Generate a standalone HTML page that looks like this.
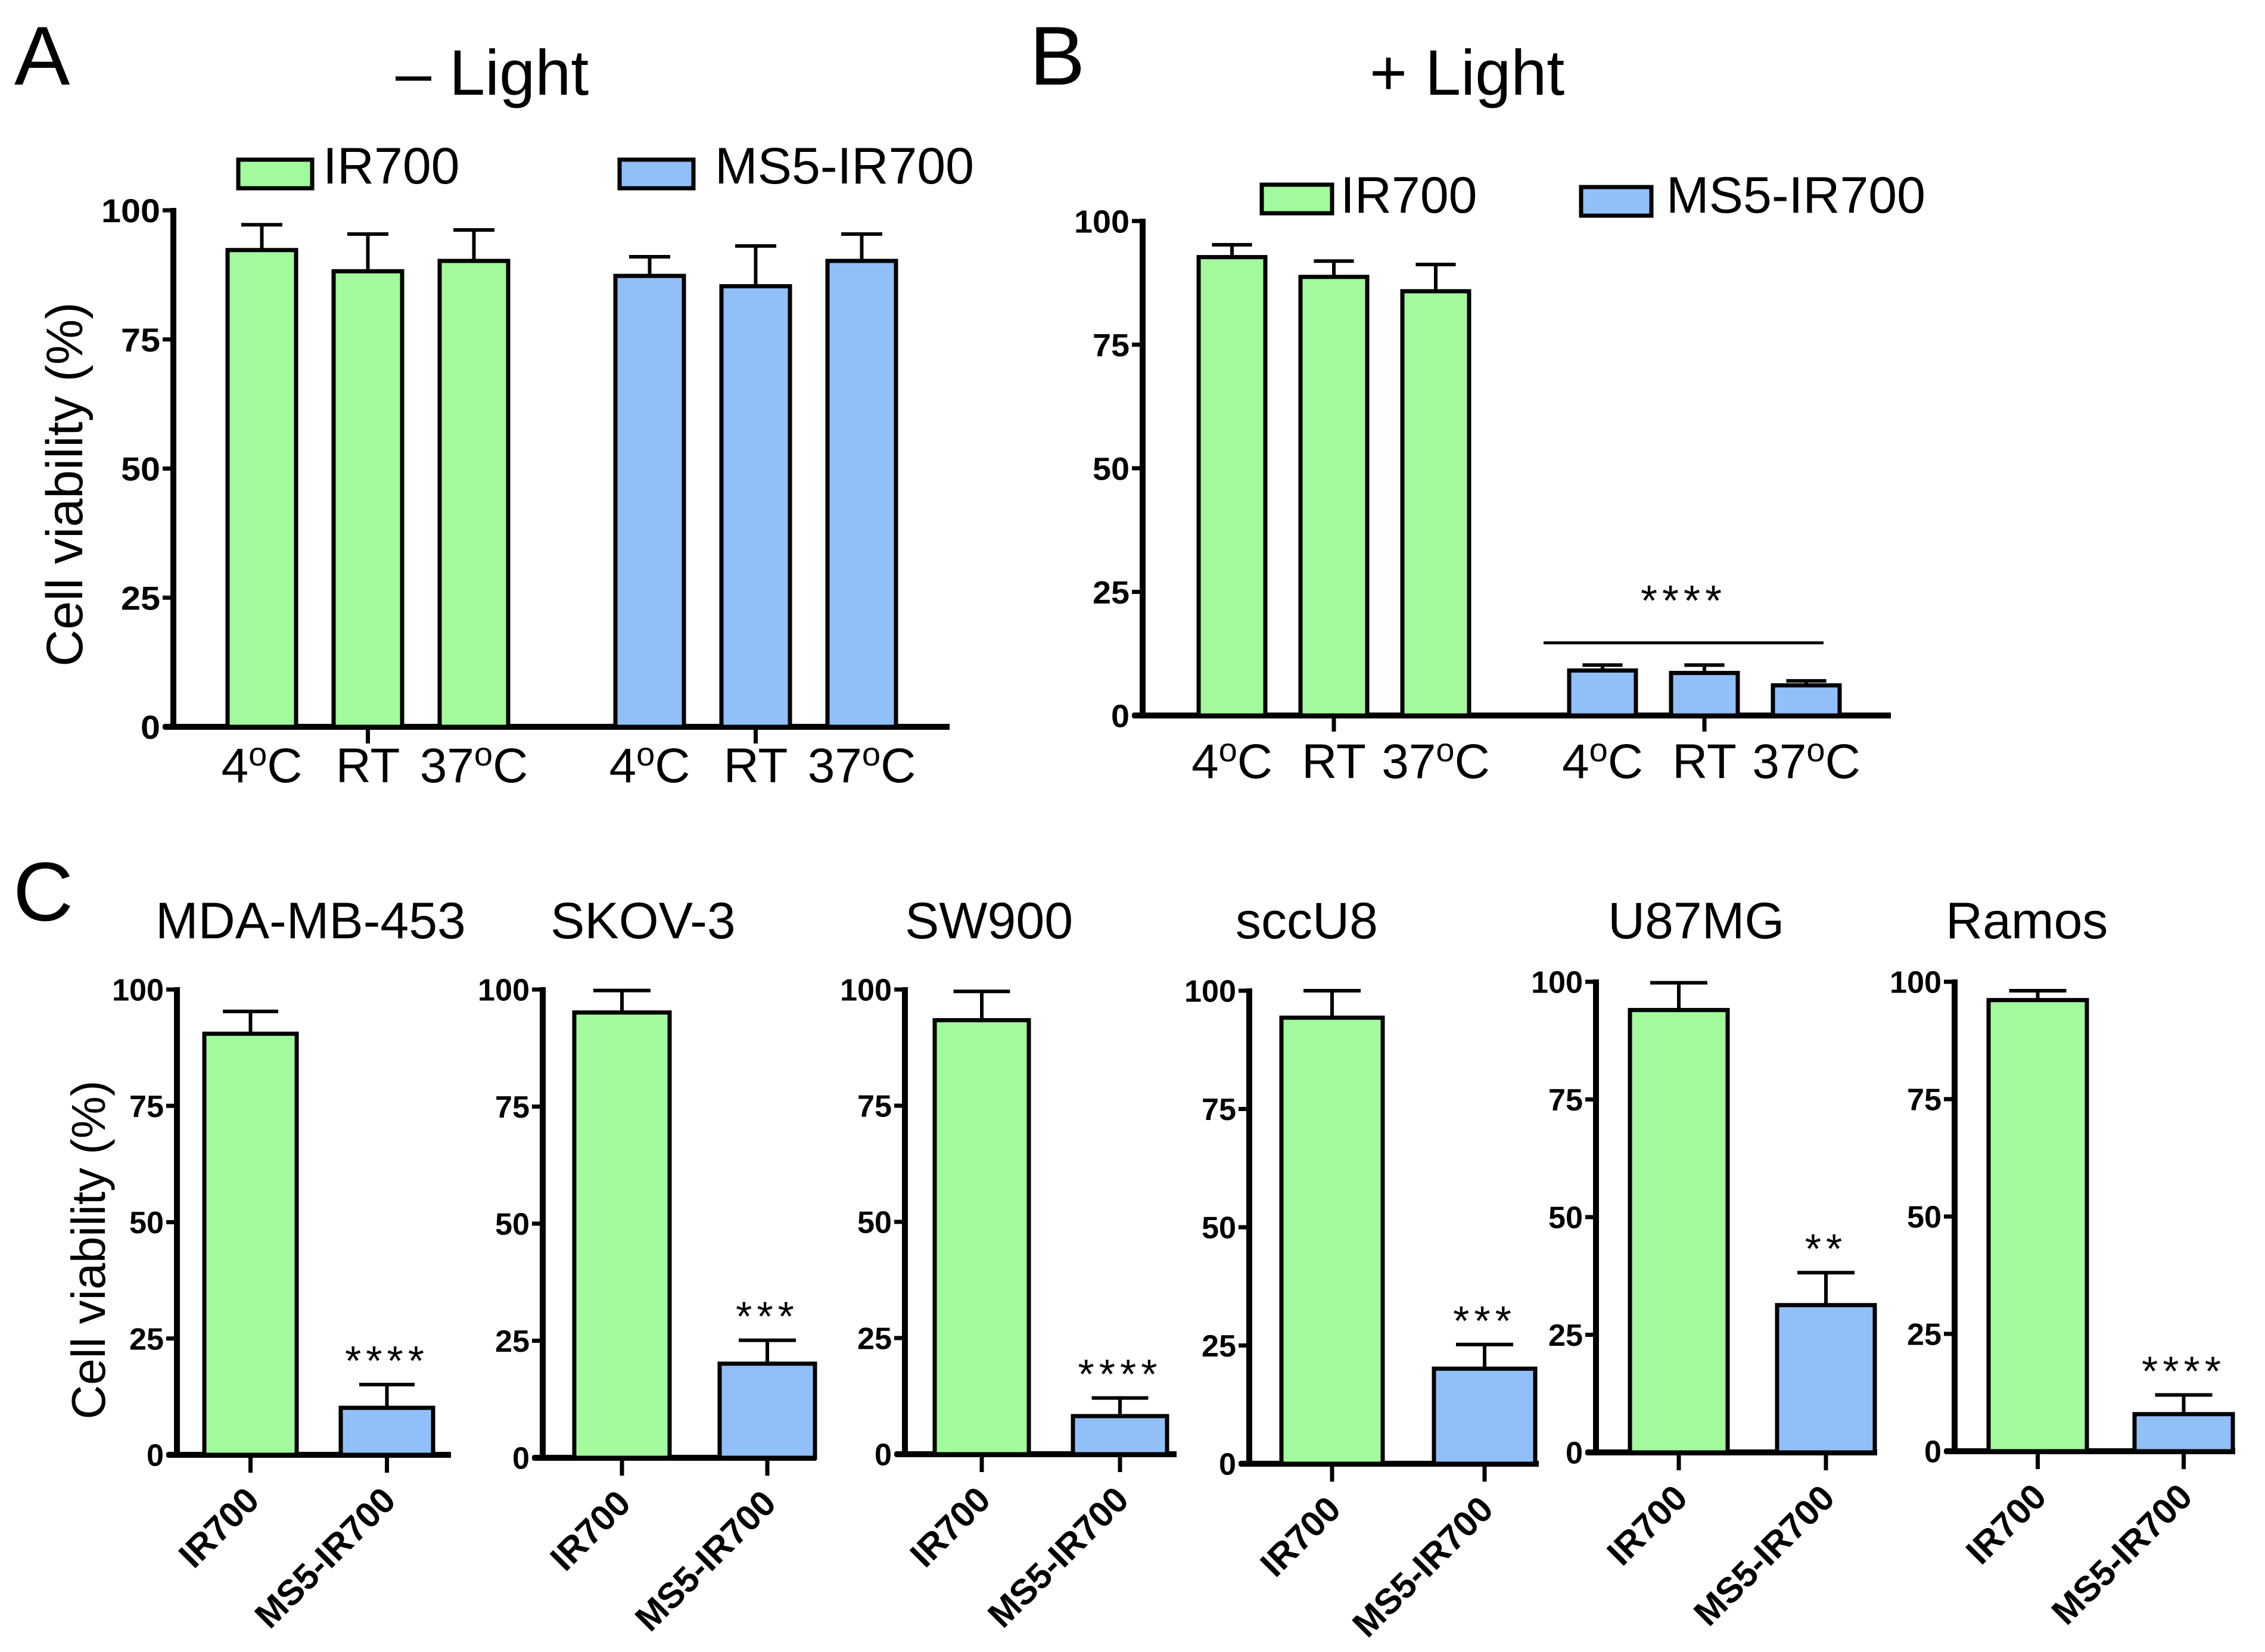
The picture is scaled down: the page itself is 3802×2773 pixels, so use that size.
<!DOCTYPE html>
<html><head><meta charset="utf-8"><style>
html,body{margin:0;padding:0;background:#fff;}
svg{display:block;font-family:"Liberation Sans",sans-serif;}
</style></head><body>
<svg id="fig" width="3802" height="2773" viewBox="0 0 3802 2773" xmlns="http://www.w3.org/2000/svg"></svg>
<script>
// ---------- DATA ----------
const tempCats = ['4','RT','37','4','RT','37'];
const aValues = [92.3, 88.2, 90.2, 87.3, 85.3, 90.2];
const aErrTop = [97.2, 95.4, 96.2, 91.0, 93.1, 95.4];
const bValues = [92.7, 88.7, 85.8, 9.1, 8.6, 6.1];
const bErrTop = [95.2, 91.9, 91.2, 10.2, 10.2, 7.0];
const bSigLevel = [14.7];
const yTicks = [0, 25, 50, 75, 100];
const cCells = ['MDA-MB-453','SKOV-3','SW900','sccU8','U87MG','Ramos'];
const cIR700 = [90.5, 95.1, 93.4, 94.3, 94.0, 96.1];
const cIR700Err = [95.3, 99.8, 99.6, 100, 99.8, 98.1];
const cMS5 = [10.1, 20.1, 8.2, 20.1, 31.3, 7.9];
const cMS5Err = [15.1, 25.1, 12.1, 25.2, 38.2, 12.0];
const cStars = ['****','***','****','***','**','****'];
const cBarLabels = ['IR700','MS5-IR700'];

const GREEN = '#a2fa9c', BLUE = '#91bff8';
const NS = 'http://www.w3.org/2000/svg';
const svg = document.getElementById('fig');
function mk(tag, attrs, parent){
  const e = document.createElementNS(NS, tag);
  for (const k in attrs) e.setAttribute(k, attrs[k]);
  (parent||svg).appendChild(e);
  return e;
}
function txt(s, attrs, parent){ const e = mk('text', attrs, parent); e.textContent = s; return e; }
function yScale(y0, y100){ return v => y0 + (y100 - y0) * v / 100; }

function yAxis(g, ax, y0, y100, xEnd, fs, cw){
  const y = yScale(y0, y100);
  const axl = mk('line',{x1:ax,y1:y100-4,x2:ax,y2:y0,stroke:'#000','stroke-width':10},g);
   
  const xl = mk('line',{x1:ax-16,y1:y0,x2:xEnd,y2:y0,stroke:'#000','stroke-width':10},g);
   
  yTicks.forEach(t=>{
    const tk = mk('line',{x1:ax-18,y1:y(t),x2:ax,y2:y(t),stroke:'#000','stroke-width':7},g);
     
    const s = String(t);
    const lb = txt(s,{x:ax-22,y:y(t)+fs*0.36,'text-anchor':'end','font-size':fs,'font-weight':'bold',textLength:cw*s.length,lengthAdjust:'spacingAndGlyphs'},g);
     
  });
  return y;
}
function bar(g, x, w, v, e, y, color, name){
  const r = mk('rect',{x:x,y:y(v),width:w,height:y(0)-y(v),fill:color,stroke:'#000','stroke-width':7},g);
   
  const cx = x + w/2, cap = Math.min(48, w*0.3);
  const el = mk('path',{d:`M${cx},${y(v)} V${y(e)} M${cx-cap},${y(e)} H${cx+cap}`,stroke:'#000','stroke-width':6,fill:'none'},g);
   
}
function tempLabel(g, cx, base, cat){
  const t = txt('',{x:cx,y:base,'text-anchor':'middle','font-size':82},g);
   
  if (cat === 'RT'){ t.textContent = 'RT'; return; }
  const a = document.createElementNS(NS,'tspan'); a.textContent = cat; t.appendChild(a);
  const b = document.createElementNS(NS,'tspan'); b.textContent = 'o'; b.setAttribute('font-size','56'); b.setAttribute('dy','-28'); t.appendChild(b);
  const c = document.createElementNS(NS,'tspan'); c.textContent = 'C'; c.setAttribute('dy','28'); t.appendChild(c);
}
function legend(g, gx, gy, tx, bx, by, btx, base, bw, bh){
  const r1 = mk('rect',{x:gx,y:gy,width:bw,height:bh,fill:GREEN,stroke:'#000','stroke-width':7},g);
   
  const t1 = txt('IR700',{x:tx,y:base,'font-size':86},g);
   
  const r2 = mk('rect',{x:bx,y:by,width:bw,height:bh,fill:BLUE,stroke:'#000','stroke-width':7},g);
   
  const t2 = txt('MS5-IR700',{x:btx,y:base,'font-size':86},g);
   
}
function panelLetter(s, x, y){
  const t = txt(s,{x:x,y:y,'font-size':140});
   
}

// ---------- PANEL A ----------
(function(){
  const g = mk('g',{});
   
  panelLetter('A', 24, 142);
  const ti = txt('\u2013 Light',{x:664,y:159,'font-size':108},g);
   
  legend(g, 400, 268, 542, 1040, 268, 1200, 308, 124, 48);
  const y = yAxis(g, 291, 1220, 353, 1594, 56, 33);
  const w = 115, step = 178, gap = 117, x0 = 382;
  aValues.forEach((v,i)=>{
    const x = x0 + i*step + (i>=3?gap:0);
    bar(g, x, w, v, aErrTop[i], y, i<3?GREEN:BLUE, 'bar-a-'+i);
    tempLabel(g, x+w/2, 1313, tempCats[i]);
    if (i===1||i===4){ const tk = mk('line',{x1:x+w/2,y1:1220,x2:x+w/2,y2:1248,stroke:'#000','stroke-width':7},g);
        }
  });
  const yt = txt('Cell viability (%)',{x:0,y:0,'font-size':86,'text-anchor':'middle',transform:'translate(138,813) rotate(-90)'},g);
   
})();

// ---------- PANEL B ----------
(function(){
  const g = mk('g',{});
   
  panelLetter('B', 1728, 142);
  const ti = txt('+ Light',{x:2299,y:159,'font-size':108},g);
   
  legend(g, 2118, 310, 2250, 2654, 314, 2797, 357, 118, 48);
  const y = yAxis(g, 1918, 1201, 371, 3174, 54, 31);
  const w = 112, step = 171, gap = 109, x0 = 2012;
  bValues.forEach((v,i)=>{
    const x = x0 + i*step + (i>=3?gap:0);
    bar(g, x, w, v, bErrTop[i], y, i<3?GREEN:BLUE, 'bar-b-'+i);
    tempLabel(g, x+w/2, 1306, tempCats[i]);
    if (i===1||i===4){ const tk = mk('line',{x1:x+w/2,y1:1201,x2:x+w/2,y2:1228,stroke:'#000','stroke-width':7},g);
        }
  });
  const sl = mk('line',{x1:2591,y1:y(bSigLevel[0]),x2:3061,y2:y(bSigLevel[0]),stroke:'#000','stroke-width':5},g);
   
  const st = txt('****',{x:2826,y:y(bSigLevel[0])+4-50,'text-anchor':'middle','font-size':72,'letter-spacing':8},g);
   
})();

// ---------- PANEL C ----------
const cLayout = [
  {ax:297, y0:2442, y100:1661, xEnd:757, g:343, b:572, w:155, tx:261},
  {ax:911, y0:2447, y100:1661, xEnd:1370, g:964, b:1208, w:160, tx:924},
  {ax:1519, y0:2441, y100:1661, xEnd:1975, g:1569, b:1801, w:158, tx:1519},
  {ax:2097, y0:2457, y100:1663, xEnd:2583, g:2151, b:2407, w:170, tx:2074},
  {ax:2679, y0:2438, y100:1648, xEnd:3151, g:2736, b:2983, w:164, tx:2699},
  {ax:3281, y0:2436, y100:1648, xEnd:3752, g:3338, b:3583, w:165, tx:3266}
];
panelLetter('C', 22, 1545);
const cyt = txt('Cell viability (%)',{x:0,y:0,'font-size':80,'text-anchor':'middle',transform:'translate(176,2098) rotate(-90)'});
 
cCells.forEach((name,i)=>{
  const L = cLayout[i];
  const g = mk('g',{});
   
  const ti = txt(name,{x:L.tx,y:1575,'font-size':86},g);
   
  const y = yAxis(g, L.ax, L.y0, L.y100, L.xEnd, 52, 29);
  bar(g, L.g, L.w, cIR700[i], cIR700Err[i], y, GREEN, 'bar-ir700');
  bar(g, L.b, L.w, cMS5[i], cMS5Err[i], y, BLUE, 'bar-ms5-ir700');
  const st = txt(cStars[i],{x:L.b+L.w/2,y:y(cMS5Err[i])-16,'text-anchor':'middle','font-size':70,'letter-spacing':8},g);
   
  [L.g, L.b].forEach((bx,j)=>{
    const cx = bx + L.w/2;
    const tk = mk('line',{x1:cx,y1:L.y0,x2:cx,y2:L.y0+30,stroke:'#000','stroke-width':7},g);
     
    const lb = txt(cBarLabels[j],{x:0,y:0,'text-anchor':'end','font-size':60,'font-weight':'bold',transform:`translate(${cx+18},${L.y0+80}) rotate(-45)`},g);
     
  });
});
</script>
</body></html>
